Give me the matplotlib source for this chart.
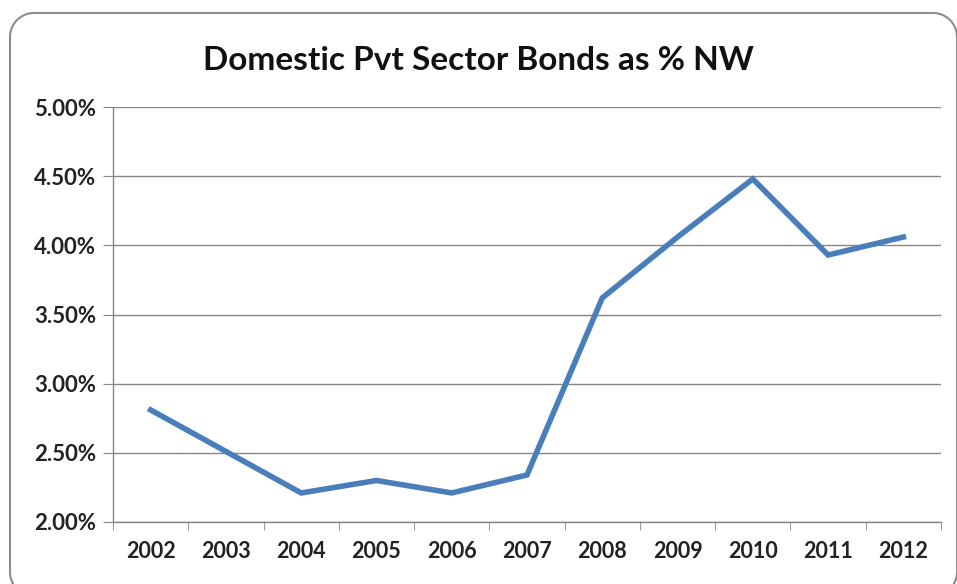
import matplotlib
matplotlib.use("Agg")
import matplotlib.pyplot as plt
import numpy as np
from matplotlib.lines import Line2D
from matplotlib.ticker import FixedLocator, FuncFormatter

years = ["2002", "2003", "2004", "2005", "2006", "2007", "2008", "2009", "2010", "2011", "2012"]
values = [2.81, 2.51, 2.21, 2.30, 2.21, 2.34, 3.62, 4.06, 4.48, 3.93, 4.06]
y_ticks = [2.0, 2.5, 3.0, 3.5, 4.0, 4.5, 5.0]
title = "Domestic Pvt Sector Bonds as % NW"

plt.rcParams['font.family'] = ['Lato', 'DejaVu Sans']
W, H = 957, 584
fig = plt.figure(figsize=(W/100, H/100), dpi=100)
fig.patch.set_facecolor("white")

# rounded chart border in pixel coordinates (y measured from top)
L, T, R, B, r = 10, 13, 957, 596, 24
def arc(cx, cy, a0, a1):
    t = np.radians(np.linspace(a0, a1, 20))
    return cx + r*np.cos(t), cy - r*np.sin(t)
xs, ys = [], []
for cx, cy, a0, a1 in [(L+r, B-r, 270, 180), (L+r, T+r, 180, 90), (R-r, T+r, 90, 0), (R-r, B-r, 0, -90)]:
    ax_, ay_ = arc(cx, cy, a0, a1)
    xs.extend(ax_); ys.extend(ay_)
xs.append(xs[0]); ys.append(ys[0])
fig.add_artist(Line2D(np.array(xs)/W, 1-np.array(ys)/H, transform=fig.transFigure,
                      color="#8c8c8c", linewidth=1.5))

ax = fig.add_axes([113/W, 1-522/H, (941-113)/W, (522-107)/H])
x = list(range(len(years)))
ax.plot(x, values, color="#4a7ebb", linewidth=4, solid_joinstyle="miter")
ax.set_xlim(-0.5, len(years)-0.5)
ax.set_ylim(2.0, 5.0)
ax.yaxis.set_major_locator(FixedLocator(y_ticks))
ax.yaxis.set_major_formatter(FuncFormatter(lambda v, p: f"{v:.2f}%"))
ax.set_xticks(x)
ax.set_xticklabels(years)
ax.xaxis.set_minor_locator(FixedLocator([i-0.5 for i in range(len(years)+1)]))
ax.tick_params(axis='x', which='major', length=0, pad=14, labelsize=15.5)
ax.tick_params(axis='x', which='minor', length=6, direction='out', color="#868686")
ax.tick_params(axis='y', length=7, direction='out', color="#868686", labelsize=16, pad=5)
for lab in ax.get_xticklabels() + ax.get_yticklabels():
    lab.set_fontweight('bold')
    lab.set_color("#222222")
ax.grid(axis='y', color="#868686", linewidth=1)
ax.set_axisbelow(True)
for s in ["top", "right"]:
    ax.spines[s].set_visible(False)
for s in ["left", "bottom"]:
    ax.spines[s].set_color("#868686")
    ax.spines[s].set_linewidth(1)

fig.text(0.5, 1-60/H, title, ha="center", va="center", fontsize=24, fontweight="bold", color="#111111")

fig.savefig("out.png", dpi=100, facecolor="white")
